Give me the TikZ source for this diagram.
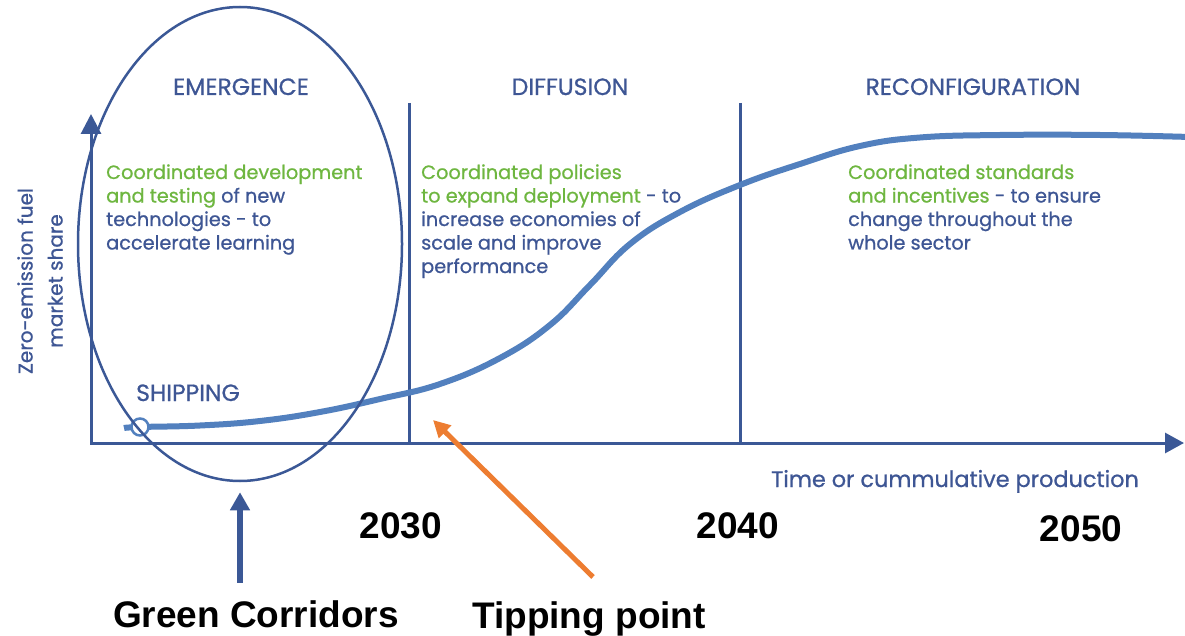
\documentclass[tikz,border=0pt]{standalone}
\usepackage{fontspec}
\setmainfont{Poppins}[RawFeature={embolden=0.8}]
\newfontfamily\arialfont{Liberation Sans}
\usepackage{tikz}
\usetikzlibrary{arrows.meta,shapes.geometric}
\definecolor{axisblue}{RGB}{59,88,150}
\definecolor{textblue}{RGB}{62,86,148}
\definecolor{leafgreen}{RGB}{110,182,64}
\definecolor{curveblue}{RGB}{82,128,190}
\definecolor{tiporange}{RGB}{237,125,49}

\begin{document}
\begin{tikzpicture}[x=1pt,y=-1pt,
phaselabel/.style={text=textblue, font=\fontsize{23.5}{28}\selectfont, anchor=base, inner sep=0pt},
phasetext/.style={text=textblue, font=\fontsize{19.3}{23.5}\selectfont, anchor=base west, align=left, inner sep=0pt},
yearlabel/.style={font=\arialfont\bfseries\fontsize{37}{40}\selectfont, anchor=base, inner sep=0pt},
axisline/.style={draw=axisblue, line width=3pt},
curveline/.style={draw=curveblue, line width=6pt},
shipdot/.style={circle, draw=curveblue, fill=white, line width=2.5pt, minimum size=17pt, inner sep=0pt},
corridorring/.style={ellipse, draw=axisblue, line width=2.5pt, minimum width=324pt, minimum height=474pt, inner sep=0pt},
]
\useasboundingbox (0,0) rectangle (1185,636);

%Axes
\coordinate (origin) at (91,443);
\coordinate (ytop)   at (91,114);
\coordinate (xend)   at (1184,443);
\draw[axisline, {Triangle[width=20pt,length=20pt]}-{Triangle[width=20pt,length=19pt]}] (ytop) -- (origin) -- (xend);
\foreach \x in {409,740}
  \draw[axisline] (\x,103) -- (\x,443);

%Phase titles
\node[phaselabel] (emergence) at (241,95) {EMERGENCE};
\node[phaselabel] (diffusion) at (570,95) {DIFFUSION};
\node[phaselabel] (reconfig)  at (973,95) {RECONFIGURATION};

%Phase texts (base = last line)
\node[phasetext] (emtext) at (106,249.5)
  {\textcolor{leafgreen}{Coordinated development}\\
   \textcolor{leafgreen}{and testing} of new\\
   technologies - to\\
   accelerate learning};
\node[phasetext] (diftext) at (421,273)
  {\textcolor{leafgreen}{Coordinated policies}\\
   \textcolor{leafgreen}{to expand deployment} - to\\
   increase economies of\\
   scale and improve\\
   performance};
\node[phasetext] (rectext) at (848,249.5)
  {\textcolor{leafgreen}{Coordinated standards}\\
   \textcolor{leafgreen}{and incentives} - to ensure\\
   change throughout the\\
   whole sector};

%Axis labels
\node[phaselabel, anchor=base west] (shipping) at (136,401) {SHIPPING};
\node[phasetext, font=\fontsize{22.4}{26}\selectfont] (xlabel) at (771,487) {Time or cummulative production};
\node[text=textblue, font=\fontsize{20}{30}\selectfont, align=center, rotate=90, inner sep=0pt] (ylabel) at (40,281)
  {Zero-emission fuel\\ market share};

%S-curve
\draw[curveline] plot[smooth, tension=0.7] coordinates {(124,428) (140,427) (200,425.5) (260,421) (320,412) (380,399) (440,384) (500,358) (550,325) (590,285) (630,244) (680,212) (740,185) (800,164) (860,146) (920,137.5) (1000,135) (1100,135) (1190,137)};
\node[shipdot] (ship) at (140,427) {};

%Green corridors
\node[corridorring] (corridor) at (240,244) {};
\node[yearlabel] (greencorr) at (256,627) {Green Corridors};
\draw[draw=axisblue, line width=6pt, -{Triangle[width=19pt,length=18pt]}, shorten <=17pt, shorten >=10pt] (corridor.south |- greencorr.north) -- (corridor.south);

%Years
\node[yearlabel] (y2030) at (401,538) {2030};
\node[yearlabel] (y2040) at (738,538) {2040};
\node[yearlabel] (y2050) at (1081,541) {2050};

%Tipping point
\node[yearlabel] (tipping) at (589,628) {Tipping point};
\coordinate (tip) at (433,420);
\draw[draw=tiporange, line width=5pt, -{Triangle[width=17pt,length=17pt]}] ([shift={(4,-24)}]tipping.north) -- (tip);

\end{tikzpicture}
\end{document}
